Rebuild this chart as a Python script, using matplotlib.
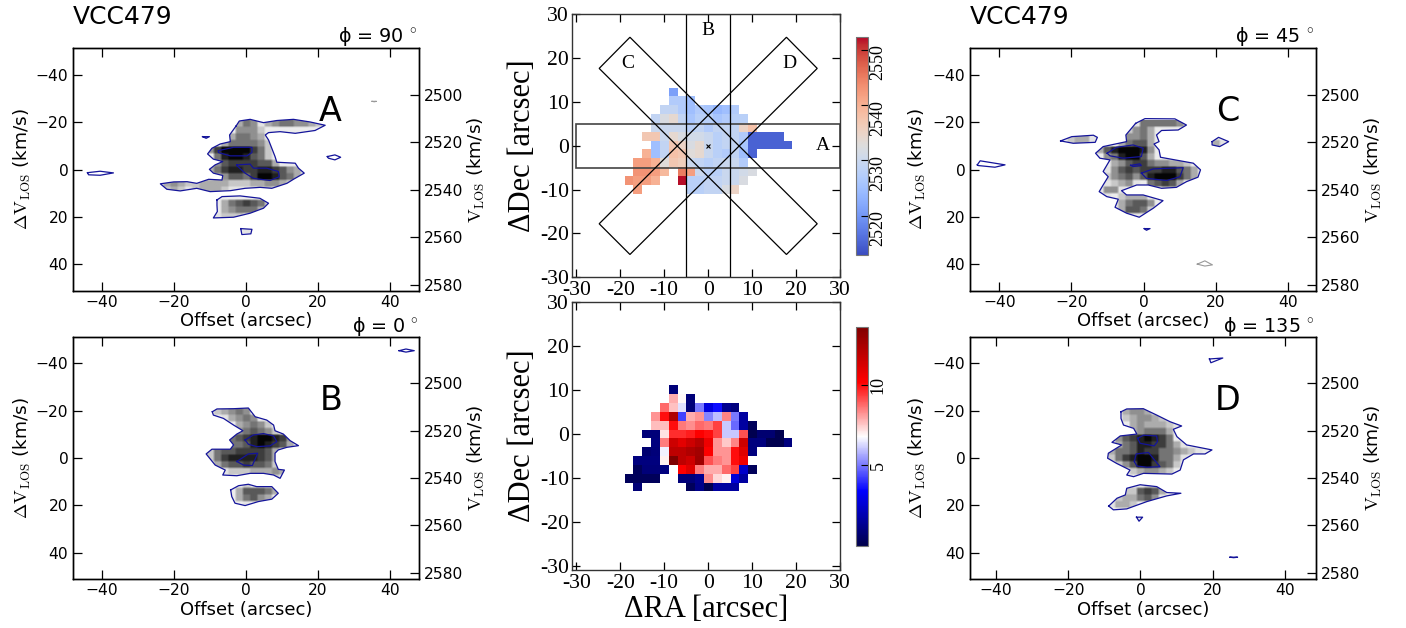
import matplotlib
matplotlib.use('Agg')
import matplotlib.pyplot as plt
import numpy as np
from matplotlib.path import Path
from matplotlib.patches import Polygon

plt.rcParams['font.family'] = 'DejaVu Sans'
plt.rcParams['mathtext.fontset'] = 'cm'

W, H = 1406, 628

# position-velocity cells: (dV, first offset, brightness digits on a 2 arcsec grid)
a_cells = [(-19.6, -2, "354134554432"), (-16.8, -2, "4442"), (-14, -4, "35543"),
           (-11.2, -6, "3555542"), (-8.4, -10, "479999752"), (-5.6, -8, "58998652"),
           (-2.8, -8, "467777663"), (0, -10, "35788778876431"), (2.8, -8, "346657998653"),
           (5.6, -22, "343223333222334432"), (8.4, -22, "2321233321111221"),
           (14, -6, "3567652"), (16.8, -6, "3455531"), (19.6, -8, "12221"), (25.2, 0, "1")]
b_cells = [(-19.6, -8, "23454"), (-16.8, -6, "13454"), (-14, -2, "34542"),
           (-11.2, -2, "456542"), (-8.4, -4, "567899874"), (-5.6, -4, "556898763"),
           (-2.8, -10, "2566777763"), (0, -10, "2578888763"), (2.8, -8, "356676652"),
           (5.6, -6, "122233343"), (8.4, 8, "2"), (11.2, -2, "12111"),
           (14, -2, "366653"), (16.8, -2, "35643"), (19.6, 0, "1")]
c_cells = [(-19.6, -2, "15555542"), (-16.8, -4, "2453"), (-14, -4, "4453"), (-14, -20, "2331"),
           (-11.2, -20, "2331"), (-11.2, -6, "35663"), (-11.2, 20, "31"),
           (-8.4, -12, "36899984"), (-5.6, -10, "4589963"), (-2.8, -8, "34677544332"),
           (0, -10, "1467677788653"), (2.8, -10, "2456468999753"), (5.6, -10, "12341"),
           (5.6, 2, "56763"), (8.4, -12, "1441"), (8.4, 6, "22"), (11.2, -10, "1"),
           (11.2, -6, "23331"), (14, -6, "35664"), (16.8, -6, "36652"), (19.6, -4, "11")]
d_cells = [(-19.6, -4, "34431"), (-16.8, -4, "2344321"), (-14, -2, "3433321"),
           (-11.2, -4, "1345553"), (-8.4, -6, "46789875"), (-5.6, -6, "3568877531"),
           (-2.8, -8, "3556877554321"), (0, -8, "25789985531"), (2.8, -6, "246997652"),
           (5.6, -2, "234432"), (11.2, -2, "11221"), (14, -4, "226763"),
           (16.8, -6, "2335641"), (19.6, -8, "1332")]

# contour outlines (offset, dV)
a_outer = [
    [(-2.7, -18.4), (-1.8, -20.5), (1.2, -21.2), (4.9, -19.8), (8.6, -20.7), (13.2, -21.2),
     (17.8, -20.1), (22, -18.7), (19.2, -16.5), (13.7, -15.3), (9.5, -16), (6.3, -15.6),
     (5.4, -14.6), (6.3, -12.5), (7.2, -9), (8.1, -5.5), (8.6, -3.1), (13.7, -2.7),
     (14.6, -0.6), (16.2, 1.5), (13.2, 4.1), (11.4, 5.8), (7.2, 7.9), (4, 7.5), (-0.2, 7.9),
     (-4.3, 8.9), (-9.9, 9.3), (-13.6, 7.9), (-18.2, 9), (-21.9, 8.3), (-23.7, 6), (-20, 5.2),
     (-16.3, 5.1), (-13.6, 5.8), (-10.3, 4.1), (-6.6, 4.4), (-6.4, 2.5), (-9, 1.5),
     (-10.1, -0.1), (-8.5, -2), (-6.4, -3.4), (-9, -4.4), (-10.6, -6.6), (-9.4, -9),
     (-7.1, -10.8), (-4.3, -11.8), (-4.5, -14.6)],
    [(-8, 12.8), (-6.6, 11.4), (-1.6, 11.1), (3.9, 12.1), (6.3, 14.2), (4.9, 16.3), (1.2, 18.4),
     (-3.4, 20.1), (-9, 20.4), (-7.9, 17.7), (-8, 15)],
    [(-43.9, 1.3), (-40.4, 0.7), (-36.7, 1.4), (-40.4, 2.4), (-43.6, 2.2)],
    [(22.6, -5.5), (24.7, -6.2), (26.3, -5.2), (24.7, -4.1), (22.9, -4.8)],
    [(-12, -13.9), (-10.1, -13.9), (-11, -13.2)],
    [(-1.4, 24.9), (1.7, 25.2), (1.4, 27.1), (-1.1, 27.4)]]
a_inner = [
    [(-7.6, -8), (-3.4, -9.4), (1.7, -9.4), (1.7, -7.2), (0.3, -5.8), (-4.3, -5.8), (-7.6, -7.2)],
    [(-2.5, -2), (1.2, -2.3), (2.1, -0.6), (5.8, -0.6), (9, 0.8), (9.3, 3), (6.7, 4.6), (2.1, 3.7),
     (-0.2, 1.5), (-2.5, -1.7)]]
a_faint = [[(35, -28.8), (36.2, -28.8), (35.6, -28.6)]]

b_outer = [
    [(-9.3, -19.5), (-8, -20.7), (-3.4, -20.8), (0.7, -21.1), (2.6, -17.4), (5.8, -16), (7.7, -13.9),
     (8.1, -11.5), (10.4, -10.1), (12.3, -7.3), (14.6, -5.2), (11.4, -4.5), (9, -3.4), (8.1, -2),
     (8.1, 1.5), (9, 4.8), (10.7, 5.1), (9.5, 8.6), (7.7, 7.2), (4.9, 6.5), (1.2, 6.5), (-2.5, 7.5),
     (-6.4, 7.2), (-5.7, 5.1), (-8.5, 3), (-11, -1.7), (-9.4, -3.7), (-4.3, -3.7), (-3.4, -5.5),
     (-4.5, -7.6), (-2.5, -10.1), (-0.8, -11.5), (-3.4, -13.9), (-6.2, -16.7), (-9, -18.1)],
    [(-4.2, 13.5), (-2, 11.7), (0.7, 11.1), (3, 12.1), (7.2, 12.1), (9, 14.9), (7.2, 17.4), (3.5, 18.4),
     (-0.2, 20.1), (-3, 19.1), (-3.9, 16.3)],
    [(42.5, -45.3), (44.4, -46), (46.7, -45.3), (44.4, -44.7)]]
b_inner = [
    [(-0.2, -7.6), (2.1, -9.7), (4.9, -10.3), (7.7, -9.3), (8.6, -6.9), (6.7, -5.1), (3, -4.8), (0.7, -5.8)],
    [(-2.5, 1.5), (0.7, -1.7), (3.3, -2), (1.8, 3.2), (-0.6, 3)]]

c_outer = [
    [(-2.2, -19.5), (0.4, -21.5), (8.7, -21.4), (11.9, -18.8), (9.6, -16.7), (5, -16.5), (3.6, -14.6),
     (4.3, -11.8), (2.9, -10.8), (4.3, -8.3), (4.7, -5.2), (13.8, -2.7), (15.8, 0.1), (15.1, 3.2),
     (11.9, 5.1), (9.1, 7.5), (5, 7.9), (1.3, 6.5), (-1.9, 6.5), (-6.1, 8.9), (-4.7, 10.7), (-0.1, 10.7),
     (5.4, 13.1), (2.7, 16.3), (-1.2, 20.1), (-4.7, 18.4), (-7.9, 15.9), (-7, 12.5), (-10.2, 11.4),
     (-12.3, 9.3), (-11.2, 6.5), (-9.8, 3), (-11.2, 0.8), (-9.3, -4.1), (-12.1, -4.8), (-13.3, -6.9),
     (-11.2, -9.7), (-4.7, -11.8), (-4.9, -14.6)],
    [(-23, -12.1), (-19.9, -13.9), (-13.9, -14.5), (-12.8, -13.6), (-13.4, -11.5), (-19.5, -11.1)],
    [(19, -11.8), (20.8, -13.6), (23.6, -11.8), (21.1, -9.7), (19, -10.4)],
    [(-46.1, -2), (-45.3, -3.7), (-38.4, -2), (-41.2, -1), (-45.8, -1.7)],
    [(0.2, 24.9), (1.8, 24.9), (0.8, 25.6)]]
c_inner = [
    [(-10.1, -6.9), (-7.5, -9.4), (-2.9, -10.4), (-0.1, -9), (-0.6, -5.5), (-5.6, -4.8), (-9.3, -5.8)],
    [(-0.6, 1.5), (2.7, -0.3), (11, -0.8), (10.1, 3), (6.4, 4.6), (0.8, 3.7)],
    [(-3.6, -1.8), (-1, -2.4), (-0.6, -1.7), (-2.9, -1.3)]]
c_faint = [[(14.9, 39.9), (17, 38.5), (19.1, 40.2), (17, 40.7)]]

d_outer = [
    [(-5.4, -19.5), (-3.8, -20.7), (0.8, -20.8), (4.5, -18.1), (8.2, -15.3), (11.4, -13.5), (9.1, -12.1),
     (10.1, -9), (12.8, -5.5), (19.8, -3.4), (17.9, -1.7), (14.7, -1.7), (11.9, 0.8), (11, 5.1), (8.7, 6.8),
     (0.8, 6.5), (-1.9, 7.9), (-3.8, 7.2), (-2.9, 5.1), (-6.6, 2.3), (-9.1, 0.1), (-8.9, -2), (-5.2, -5.5),
     (-7.9, -6.6), (-5.6, -9.3), (-1, -10.1), (-1.9, -12.5), (-4.7, -13.9), (-5.4, -16.7)],
    [(-8.8, 20.3), (-6.5, 17), (-4.2, 15.6), (-3.8, 12.8), (-0.1, 11.3), (4.5, 12.1), (7.3, 14.6),
     (11.2, 14.9), (7.3, 16), (1.8, 18.4), (-3.8, 21.5), (-7.5, 21.9)],
    [(19.1, -41.8), (22.8, -42.2), (19.5, -40.2)],
    [(-1.1, 25), (0.6, 25), (-0.4, 26.7)],
    [(24.8, 41.9), (26.9, 41.9), (25.8, 42.1)]]
d_inner = [
    [(-0.8, -8.3), (0.8, -9.6), (4.5, -9.3), (4.7, -6.9), (3.8, -5.1), (-0.1, -6.2)],
    [(-1.7, 1.5), (-1.2, -1.7), (2.2, -2.3), (5.4, 3.7), (1.8, 3.9), (-1, 3.4)]]

# maps: (dec, first ra, values on a 2 arcsec grid)
vel_rows = [(12, -8, [2521]), (10, -8, [2527, 2527, 2525]),
            (8, -10, [2529, 2529, 2527, 2525, 2527, 2526, 2524, 2525, 2527]),
            (6, -12, [2529, 2532, 2534, 2529, 2526, 2528, 2528, 2526, 2527, 2528, 2528]),
            (4, -12, [2530, 2530, 2530, 2530, 2528, 2529, 2527, 2529, 2529, 2529, 2535, 2538]),
            (2, -14, [2537, 2537, 2530, 2534, 2532, 2531, 2531, 2530, 2528, 2529, 2529, 2527, 2515, 2515, 2515, 2515]),
            (0, -12, [2525, 2529, 2537, 2535, 2532, 2534, 2530, 2528, 2529, 2529, 2526, 2515, 2515, 2515, 2515, 2515]),
            (-2, -14, [2540, 2525, 2529, 2538, 2537, 2533, 2534, 2530, 2528, 2527, 2529, 2525, 2515]),
            (-4, -16, [2542, 2542, 2540, 2533, 2537, 2536, 2530, 2529, 2528, 2529, 2530, 2530, 2527]),
            (-6, -16, [2543, 2543, 2542, 2539]),
            (-6, -6, [2545, 2542, 2530, 2528, 2528, 2530, 2530, 2531, 2532]),
            (-8, -18, [2543, 2542, 2542, 2540]), (-8, -6, [2552]),
            (-8, -4, [2528, 2528, 2529, 2529, 2530, 2530, 2532]),
            (-10, -16, [2542]), (-10, -4, [2528, 2528, 2529, 2529, 2532, 2535])]
disp_rows = [(10, -8, [0.9]), (8, -8, [7.9, 6.9, 0.9]),
             (6, -10, [8.8, 7.6, 6.4, 0.9, 5.0, 2.8, 3.6, 1.3, 1.0]),
             (4, -12, [8.2, 10, 12.3, 4.3, 7.9, 8.2, 5.2, 5.9, 8.4, 5.0, 1.6]),
             (2, -12, [7.7, 7.7, 10, 8.6, 8.3, 8.8, 8.6, 9.3, 6.1, 4.8, 1.6, 0.3]),
             (0, -14, [0.9, 0.9, 7.2, 9.6, 9.6, 9.8, 10.2, 10, 9.3, 6.1, 6.1, 9.1, 0.1, 0.7, 0.7, 0.1]),
             (-2, -12, [1.0, 8.5, 11.5, 10.9, 11.5, 12.1, 10.6, 8.2, 7.5, 8.4, 11.5, 1.0, 1.0, 0.1, 0.1, 1.0]),
             (-4, -14, [0.7, 0.9, 6.6, 11.9, 11.9, 12.3, 12.6, 10.2, 8.2, 8.2, 10, 11, 1.0]),
             (-6, -16, [1, 1, 1, 7.0, 13.6, 11.9, 11.5, 12.7, 9.1, 8.5, 8.2, 10, 10.6]),
             (-8, -16, [0.3, 0.9, 0.9, 1.0]), (-8, -6, [10.2, 11, 8.5, 7.9, 7.9, 8.8, 9.3, 2.4, 0.3]),
             (-10, -18, [0.3, 0.3, 0.3, 0.3]), (-10, -6, [0.9, 0.9, 1.3, 8.3, 7.3, 7, 2.7, 1.6]),
             (-12, -16, [0.8]), (-12, -4, [0.3, 1.2, 0.1, 1.6, 1.6, 1.6])]

off_ticks = [-40, -20, 0, 20, 40]
dv_ticks = [-40, -20, 0, 20, 40]
vlos_ticks = [2500, 2520, 2540, 2560, 2580]
map_ticks = [-30, -20, -10, 0, 10, 20, 30]
vel_cbar_ticks = [2520, 2530, 2540, 2550]
disp_cbar_ticks = [5, 10]

V0 = 2531.5
SERIF = 'Liberation Serif'
LINE = '#14149a'


def box(l, t, r, b):
    return [l / W, 1 - b / H, (r - l) / W, (b - t) / H]


def pv_panel(rect, cells, outer, inner, xlim, ylim, angle, angle_xy, letter, letter_x,
             faint=(), label_x=-0.115, right_x=1.134):
    ax = fig.add_axes(box(*rect))
    offs = np.arange(-24, 24, 2)
    dvs = np.arange(-19.6, 25.3, 2.8)
    # faint floor so the inside of a contour is never pure white
    grid = np.full((len(dvs), len(offs)), 0.7)
    for dv, start, digits in cells:
        r = int(round((dv - dvs[0]) / 2.8))
        c = int((start - offs[0]) / 2)
        for k, ch in enumerate(digits):
            grid[r, c + k] = int(ch)
    # repeat the cells so bilinear only softens their edges
    grid = np.repeat(np.repeat(grid, 3, axis=0), 3, axis=1)
    im = ax.imshow(grid, cmap='gray_r', vmin=0, vmax=9.2, aspect='auto', origin='lower',
                   interpolation='bilinear',
                   extent=[offs[0] - 1, offs[-1] + 1, dvs[0] - 1.4, dvs[-1] + 1.4])
    clip = Path.make_compound_path(*[Path(np.array(p + [p[0]]), closed=True) for p in outer])
    im.set_clip_path(clip, transform=ax.transData)
    for p in list(outer) + list(inner):
        xy = np.array(p + [p[0]])
        ax.plot(xy[:, 0], xy[:, 1], color=LINE, lw=0.9, solid_joinstyle='round')
    for p in faint:
        xy = np.array(p + [p[0]])
        ax.plot(xy[:, 0], xy[:, 1], color='#999999', lw=0.8)
    ax.set_xlim(*xlim)
    ax.set_ylim(*ylim)
    ax.set_xticks(off_ticks)
    ax.set_yticks(dv_ticks)
    ax.tick_params(axis='both', which='major', direction='in', length=6.2, width=0.9,
                   labelsize=11.2, pad=3.2, top=True, right=False)
    ax.set_xlabel('Offset (arcsec)', fontsize=13, labelpad=1.5)
    ax.set_ylabel(r'$\Delta\mathrm{V}_{\mathrm{LOS}}$ (km/s)', fontsize=13.3)
    ax.yaxis.set_label_coords(label_x, 0.5)
    ax.text(letter_x, -20.3, letter, fontsize=24, ha='left', va='baseline')

    ax2 = ax.twinx()
    ax2.set_ylim(ylim[0] + V0, ylim[1] + V0)
    ax2.set_yticks(vlos_ticks)
    ax2.tick_params(axis='y', direction='in', length=6.2, width=0.9, labelsize=11.2, pad=3.2)
    ax2.set_ylabel(r'$\mathrm{V}_{\mathrm{LOS}}$ (km/s)', fontsize=13.3)
    ax2.yaxis.set_label_coords(right_x, 0.5)
    for a in (ax, ax2):
        for s in a.spines.values():
            s.set_linewidth(1.0)
    fig.text(angle_xy[0] / W, 1 - angle_xy[1] / H, 'ϕ = %d$\\,^\\circ$' % angle,
             fontsize=13.8, ha='left', va='baseline', zorder=5)
    return ax


def map_panel(rect, rows, cmap, vmin, vmax, ylim):
    ax = fig.add_axes(box(*rect))
    grid = np.full((17, 23), np.nan)
    for dec, start, vals in rows:
        r = int((dec + 16) / 2)
        c = int((start + 22) / 2)
        grid[r, c:c + len(vals)] = vals
    im = ax.imshow(grid, cmap=cmap, vmin=vmin, vmax=vmax, origin='lower', aspect='auto',
                   interpolation='nearest', extent=[-23, 23, -17, 17])
    ax.set_xlim(-31.05, 30.05)
    ax.set_ylim(*ylim)
    ax.set_xticks(map_ticks)
    ax.set_yticks(map_ticks)
    ax.set_xticklabels([str(t) for t in map_ticks], family=SERIF, fontsize=15.6)
    ax.set_yticklabels([str(t) for t in map_ticks], family=SERIF, fontsize=15.6)
    ax.tick_params(axis='both', direction='in', length=5.5, width=0.9, top=True, right=True)
    ax.tick_params(axis='x', pad=3)
    ax.tick_params(axis='y', pad=2)
    for s in ax.spines.values():
        s.set_linewidth(1.0)
        s.set_color('#333333')
    ax.set_ylabel('ΔDec [arcsec]', family=SERIF, fontsize=22)
    ax.yaxis.set_label_coords((537 - rect[0]) / (rect[2] - rect[0]), 0.5)
    return ax, im


def cbar_panel(rect, im, ticks, shift):
    cax = fig.add_axes(box(*rect))
    cb = fig.colorbar(im, cax=cax)
    cb.set_ticks(ticks)
    cb.set_ticklabels([''] * len(ticks))
    cax.tick_params(axis='y', direction='in', length=5, width=0.8, color='black', pad=0)
    cb.outline.set_edgecolor('#777777')
    cb.outline.set_linewidth(0.8)
    for t in ticks:
        cax.annotate(str(t), (1, t), xycoords=('axes fraction', 'data'),
                     xytext=(10, shift), textcoords='offset pixels', rotation=90,
                     ha='center', va='center', family=SERIF, fontsize=13, annotation_clip=False)


fig = plt.figure(figsize=(W / 100, H / 100), dpi=100)

pv_panel((72.7, 48, 419.3, 290.7), a_cells, a_outer, a_inner, (-48, 48.1), (51.1, -51.3),
         90, (338, 41.7), 'A', 20.1, faint=a_faint)
pv_panel((72.7, 336.7, 419.3, 579), b_cells, b_outer, b_inner, (-48, 48.1), (51.1, -51.2),
         0, (352, 331.7), 'B', 20.6)
pv_panel((969.7, 48, 1316.3, 290.7), c_cells, c_outer, c_inner, (-48.2, 47.9), (51.1, -51.3),
         45, (1235, 41.7), 'C', 20.2, faint=c_faint, label_x=-0.12)
pv_panel((969.7, 336.7, 1316.3, 579), d_cells, d_outer, d_inner, (-47.3, 48.7), (51.1, -51.2),
         135, (1222.7, 331.7), 'D', 20.7, label_x=-0.12)

fig.text(73 / W, 1 - 23.5 / H, 'VCC479', fontsize=18, ha='left', va='baseline')
fig.text(970 / W, 1 - 23.5 / H, 'VCC479', fontsize=18, ha='left', va='baseline')

# velocity map with the slit boxes
vel_rect = (571.7, 14, 840.3, 277.3)
ax_v, im_v = map_panel(vel_rect, vel_rows, 'coolwarm', 2512.9, 2552.4, (-30, 30))
ax_v.add_patch(Polygon([(-30, -5), (30, -5), (30, 5), (-30, 5)], fill=False, ec='#444444', lw=1.2))
ax_v.add_patch(Polygon([(-5, -30), (5, -30), (5, 30), (-5, 30)], fill=False, ec='black', lw=0.9))
ax_v.add_patch(Polygon([(-17.8, 24.7), (-24.8, 17.6), (17.8, -24.8), (24.8, -17.8)],
                       fill=False, ec='black', lw=0.9))
ax_v.add_patch(Polygon([(17.8, 24.7), (24.8, 17.6), (-17.8, -24.8), (-24.8, -17.8)],
                       fill=False, ec='black', lw=0.9))
ax_v.plot([0], [0], marker='x', color='black', ms=3.5, mew=0.8)
for name, x, y in [('A', 26.1, 0), ('B', 0, 26.2), ('C', -18.4, 18.8), ('D', 18.4, 18.8)]:
    ax_v.text(x, y, name, family=SERIF, fontsize=14, ha='center', va='center')
cbar_panel((856.3, 36.7, 868, 255), im_v, vel_cbar_ticks, -12.5)

# dispersion map
disp_rect = (571.7, 302, 840.3, 570)
ax_s, im_s = map_panel(disp_rect, disp_rows, 'seismic', 0, 13.6, (-30.9, 30))
ax_s.set_xlabel('ΔRA [arcsec]', family=SERIF, fontsize=22, labelpad=1)
cbar_panel((856.3, 327.3, 868, 545.7), im_s, disp_cbar_ticks, 0)

fig.savefig('out.png', dpi=100, facecolor='white')
plt.close()
